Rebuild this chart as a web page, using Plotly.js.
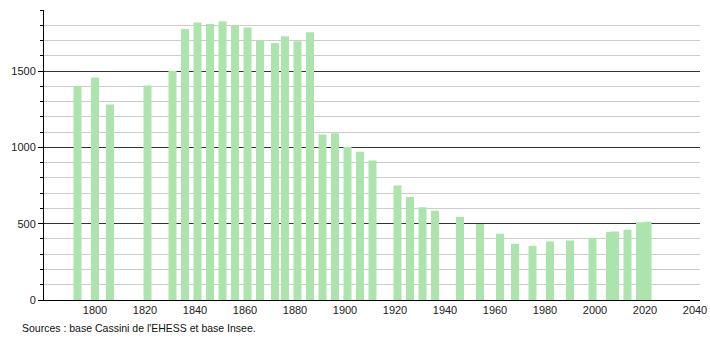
<!DOCTYPE html>
<html>
<head>
<meta charset="utf-8">
<script src="https://cdn.plot.ly/plotly-3.0.1.min.js"></script>
<style>html,body{margin:0;padding:0;background:#fff;}#chart{width:710px;height:340px;}</style>
</head>
<body>
<div id="chart"></div>
<script>
var years = [1793, 1800, 1806, 1821, 1831, 1836, 1841, 1846, 1851, 1856, 1861, 1866, 1872, 1876, 1881, 1886, 1891, 1896, 1901, 1906, 1911, 1921, 1926, 1931, 1936, 1946, 1954, 1962, 1968, 1975, 1982, 1990, 1999, 2006, 2008, 2013, 2018, 2021];
var population = [1398, 1458, 1281, 1406, 1502, 1776, 1818, 1809, 1827, 1798, 1786, 1700, 1683, 1728, 1695, 1754, 1085, 1092, 1002, 971, 914, 750, 675, 607, 585, 545, 498, 434, 368, 355, 384, 390, 406, 445, 449, 461, 509, 513];
var xTickVals = [1800, 1820, 1840, 1860, 1880, 1900, 1920, 1940, 1960, 1980, 2000, 2020, 2040];
var yTickVals = [0, 500, 1000, 1500];
var sourceText = "Sources : base Cassini de l'EHESS et base Insee.";

var trace = {
  type: 'bar',
  x: years,
  y: population,
  width: 3.2,
  marker: {color: '#ade4ad', line: {width: 0}},
  hoverinfo: 'x+y'
};

var layout = {
  width: 710,
  height: 340,
  margin: {l: 44, r: 10, t: 10, b: 40, pad: 0},
  paper_bgcolor: '#ffffff',
  plot_bgcolor: '#ffffff',
  showlegend: false,
  font: {family: 'Liberation Sans, Arial, sans-serif', size: 11, color: '#222'},
  xaxis: {
    range: [1779.6, 2042],
    tickmode: 'array',
    tickvals: xTickVals,
    ticks: '',
    showgrid: false,
    zeroline: false,
    showline: true,
    linecolor: '#000',
    linewidth: 1,
    tickfont: {size: 11, color: '#222'},
    fixedrange: true
  },
  yaxis: {
    range: [0, 1900],
    tickmode: 'array',
    tickvals: yTickVals,
    ticks: 'outside',
    ticklen: 5,
    tickcolor: '#000',
    showgrid: true,
    gridcolor: '#333',
    gridwidth: 1,
    zeroline: false,
    showline: true,
    linecolor: '#000',
    linewidth: 1,
    tickfont: {size: 11, color: '#222'},
    minor: {
      dtick: 100,
      tick0: 0,
      ticks: 'outside',
      ticklen: 3,
      tickcolor: '#000',
      showgrid: true,
      gridcolor: '#cccccc',
      gridwidth: 1
    },
    fixedrange: true
  },
  annotations: [{
    text: sourceText,
    xref: 'paper', yref: 'paper',
    x: -24/656, y: -28/290,
    xanchor: 'left', yanchor: 'middle',
    showarrow: false,
    font: {size: 10.5, color: '#111'}
  }]
};

Plotly.newPlot('chart', [trace], layout, {displayModeBar: false, staticPlot: true});
</script>
</body>
</html>
